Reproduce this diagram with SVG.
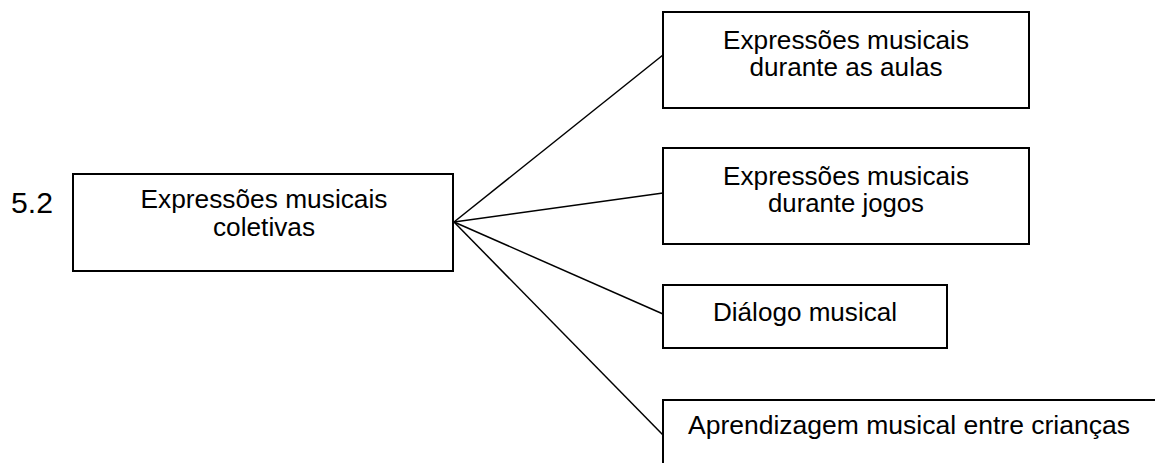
<svg xmlns="http://www.w3.org/2000/svg" width="1155" height="463" viewBox="0 0 1155 463">
<style>
.box{fill:#fff;stroke:#000;stroke-width:2}
.t{font-family:"Liberation Sans",Arial,sans-serif;font-size:25px;fill:#000;text-anchor:middle}
.c line{stroke:#000;stroke-width:1.5}
</style>
<rect width="1155" height="463" fill="#fff"/>
<g class="c" id="connectors">
<line x1="454" y1="222" x2="663" y2="55"/>
<line x1="454" y1="222" x2="663" y2="193"/>
<line x1="454" y1="222" x2="663" y2="314"/>
<line x1="454" y1="222" x2="663" y2="435"/>
</g>
<text x="11" y="213" style="font-family:'Liberation Sans',Arial,sans-serif;font-size:29px" textLength="42" lengthAdjust="spacingAndGlyphs">5.2</text>
<g id="main">
<rect class="box" x="73" y="174" width="380" height="97"/>
<text class="t" x="264" y="208" textLength="247" lengthAdjust="spacingAndGlyphs">Expressões musicais</text>
<text class="t" x="264" y="236" textLength="102" lengthAdjust="spacingAndGlyphs">coletivas</text>
</g>
<g id="n1">
<rect class="box" x="663" y="12" width="366" height="96"/>
<text class="t" x="846" y="49" textLength="246" lengthAdjust="spacingAndGlyphs">Expressões musicais</text>
<text class="t" x="846" y="76" textLength="193" lengthAdjust="spacingAndGlyphs">durante as aulas</text>
</g>
<g id="n2">
<rect class="box" x="663" y="148" width="366" height="96"/>
<text class="t" x="846" y="185" textLength="246" lengthAdjust="spacingAndGlyphs">Expressões musicais</text>
<text class="t" x="846" y="212" textLength="156" lengthAdjust="spacingAndGlyphs">durante jogos</text>
</g>
<g id="n3">
<rect class="box" x="663" y="285" width="284" height="63"/>
<text class="t" x="805" y="321" textLength="184" lengthAdjust="spacingAndGlyphs">Diálogo musical</text>
</g>
<g id="n4">
<rect class="box" x="663" y="400" width="520" height="90"/>
<text class="t" x="909" y="434" textLength="442" lengthAdjust="spacingAndGlyphs">Aprendizagem musical entre crianças</text>
</g>
</svg>
